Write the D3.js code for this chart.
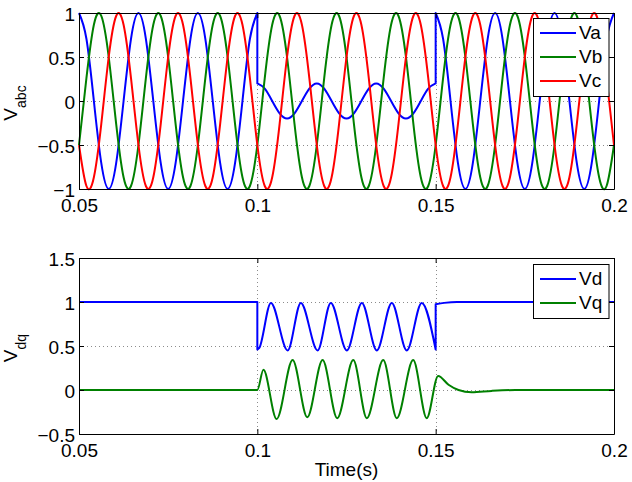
<!DOCTYPE html>
<html>
<head>
<meta charset="utf-8">
<script src="https://cdn.jsdelivr.net/npm/d3@7"></script>
<style>
  body { margin: 0; background: #fff; }
  svg { display: block; font-family: "Liberation Sans", Arial, sans-serif; }
</style>
</head>
<body>
<div id="chart"></div>
<script>
// sample times for the phase voltages (s)
const tGrid = [
  0.05, 0.05208, 0.05417, 0.05625, 0.05833, 0.06042, 0.0625, 0.06458,
  0.06667, 0.06875, 0.07083, 0.07292, 0.075, 0.07708, 0.07917, 0.08125,
  0.08333, 0.08542, 0.0875, 0.08958, 0.09167, 0.09375, 0.09583, 0.09792,
  0.1, 0.10208, 0.10417, 0.10625, 0.10833, 0.11042, 0.1125, 0.11458,
  0.11667, 0.11875, 0.12083, 0.12292, 0.125, 0.12708, 0.12917, 0.13125,
  0.13333, 0.13542, 0.1375, 0.13958, 0.14167, 0.14375, 0.14583, 0.14792,
  0.15, 0.15208, 0.15417, 0.15625, 0.15833, 0.16042, 0.1625, 0.16458,
  0.16667, 0.16875, 0.17083, 0.17292, 0.175, 0.17708, 0.17917, 0.18125,
  0.18333, 0.18542, 0.1875, 0.18958, 0.19167, 0.19375, 0.19583, 0.19792,
  0.2
];

// Va: before the sag (0.05-0.1), during it (0.1-0.15), after it (0.15-0.2)
const vaPre = [
  1, 0.707, 0, -0.707, -1, -0.707, 0, 0.707,
  1, 0.707, 0, -0.707, -1, -0.707, 0, 0.707,
  1, 0.707, 0, -0.707, -1, -0.707, 0, 0.707,
  1
];
const vaSag = [
  0.2, 0.141, 0, -0.141, -0.2, -0.141, 0, 0.141,
  0.2, 0.141, 0, -0.141, -0.2, -0.141, 0, 0.141,
  0.2, 0.141, 0, -0.141, -0.2, -0.141, 0, 0.141,
  0.2
];
const vaPost = [
  1, 0.707, 0, -0.707, -1, -0.707, 0, 0.707,
  1, 0.707, 0, -0.707, -1, -0.707, 0, 0.707,
  1, 0.707, 0, -0.707, -1, -0.707, 0, 0.707,
  1
];
const vb = [
  -0.5, 0.259, 0.866, 0.966, 0.5, -0.259, -0.866, -0.966,
  -0.5, 0.259, 0.866, 0.966, 0.5, -0.259, -0.866, -0.966,
  -0.5, 0.259, 0.866, 0.966, 0.5, -0.259, -0.866, -0.966,
  -0.5, 0.259, 0.866, 0.966, 0.5, -0.259, -0.866, -0.966,
  -0.5, 0.259, 0.866, 0.966, 0.5, -0.259, -0.866, -0.966,
  -0.5, 0.259, 0.866, 0.966, 0.5, -0.259, -0.866, -0.966,
  -0.5, 0.259, 0.866, 0.966, 0.5, -0.259, -0.866, -0.966,
  -0.5, 0.259, 0.866, 0.966, 0.5, -0.259, -0.866, -0.966,
  -0.5, 0.259, 0.866, 0.966, 0.5, -0.259, -0.866, -0.966,
  -0.5
];
const vc = [
  -0.5, -0.966, -0.866, -0.259, 0.5, 0.966, 0.866, 0.259,
  -0.5, -0.966, -0.866, -0.259, 0.5, 0.966, 0.866, 0.259,
  -0.5, -0.966, -0.866, -0.259, 0.5, 0.966, 0.866, 0.259,
  -0.5, -0.966, -0.866, -0.259, 0.5, 0.966, 0.866, 0.259,
  -0.5, -0.966, -0.866, -0.259, 0.5, 0.966, 0.866, 0.259,
  -0.5, -0.966, -0.866, -0.259, 0.5, 0.966, 0.866, 0.259,
  -0.5, -0.966, -0.866, -0.259, 0.5, 0.966, 0.866, 0.259,
  -0.5, -0.966, -0.866, -0.259, 0.5, 0.966, 0.866, 0.259,
  -0.5, -0.966, -0.866, -0.259, 0.5, 0.966, 0.866, 0.259,
  -0.5
];

// Vd, read at its peaks and troughs
const vdPreT = [0.05, 0.1];
const vdPre = [1, 1];
const vdSagT = [0.1, 0.1005, 0.1038, 0.1085, 0.1122, 0.1169, 0.1206, 0.1251,
  0.1293, 0.1335, 0.1377, 0.1419, 0.1461, 0.15];
const vdSag = [0.46, 0.475, 0.99, 0.45, 0.99, 0.45, 0.99, 0.45,
  0.99, 0.45, 0.99, 0.45, 0.99, 0.46];
const vdPostT = [0.15, 0.1524, 0.156, 0.2];
const vdPost = [0.975, 0.99, 1, 1];

// Vq
const vqT = [0.05, 0.1, 0.1017, 0.1054, 0.1099, 0.114, 0.1183, 0.1224, 0.1269,
  0.1307, 0.1353, 0.1391, 0.1437, 0.1475, 0.1507, 0.1536, 0.1564, 0.1601,
  0.1657, 0.1723, 0.2];
const vq = [0, 0, 0.23, -0.33, 0.34, -0.31, 0.34, -0.32, 0.34,
  -0.32, 0.34, -0.32, 0.34, -0.32, 0.16, 0.06, 0, -0.026,
  -0.01, 0, 0];

const xTicks = [0.05, 0.1, 0.15, 0.2];
const xTickLabels = ["0.05", "0.1", "0.15", "0.2"];
const abcTicks = [-1, -0.5, 0, 0.5, 1];
const abcTickLabels = ["\u22121", "\u22120.5", "0", "0.5", "1"];
const dqTicks = [-0.5, 0, 0.5, 1, 1.5];
const dqTickLabels = ["\u22120.5", "0", "0.5", "1", "1.5"];
const abcNames = ["Va", "Vb", "Vc"];
const dqNames = ["Vd", "Vq"];
const colors = ["#0000ff", "#008000", "#ff0000"];

const width = 632, height = 482;
const left = 79, right = 614;
const fs = 19;

const svg = d3.select("#chart").append("svg")
  .attr("width", width)
  .attr("height", height);

const x = d3.scaleLinear().domain([0.05, 0.2]).range([left, right]);
const yAbc = d3.scaleLinear().domain([-1, 1]).range([189, 13]);
const yDq = d3.scaleLinear().domain([-0.5, 1.5]).range([434, 258]);

// join segments so the jumps between them become straight vertical strokes
function joined(line, segs) {
  return segs.map((s, i) => i ? line(s).replace(/^M/, "L") : line(s)).join("");
}

function panel(y, ticks, labels, sub) {
  const [bottom, top] = y.range();
  const g = svg.append("g");

  // dotted grid
  const grid = g.append("g")
    .attr("stroke", "#8c8c8c")
    .attr("stroke-width", 1)
    .attr("stroke-dasharray", "1,3");
  grid.selectAll("line.gx")
    .data(xTicks.slice(1, -1))
    .join("line").attr("class", "gx")
    .attr("x1", d => Math.round(x(d)) + 0.5).attr("x2", d => Math.round(x(d)) + 0.5)
    .attr("y1", top).attr("y2", bottom);
  grid.selectAll("line.gy")
    .data(ticks.slice(1, -1))
    .join("line").attr("class", "gy")
    .attr("x1", left).attr("x2", right)
    .attr("y1", d => Math.round(y(d)) + 0.5).attr("y2", d => Math.round(y(d)) + 0.5);

  const plot = g.append("g");

  const fmt = (arr) => (d, i) => arr[i];
  const axes = [
    g.append("g").attr("transform", `translate(0,${bottom})`)
      .call(d3.axisBottom(x).tickValues(xTicks).tickFormat(fmt(xTickLabels))
        .tickSizeInner(-5).tickSizeOuter(0).tickPadding(9.5)),
    g.append("g").attr("transform", `translate(0,${top})`)
      .call(d3.axisTop(x).tickValues(xTicks).tickFormat("").tickSizeInner(-5).tickSizeOuter(0)),
    g.append("g").attr("transform", `translate(${left},0)`)
      .call(d3.axisLeft(y).tickValues(ticks).tickFormat(fmt(labels))
        .tickSizeInner(-5).tickSizeOuter(0).tickPadding(4)),
    g.append("g").attr("transform", `translate(${right},0)`)
      .call(d3.axisRight(y).tickValues(ticks).tickFormat("").tickSizeInner(-5).tickSizeOuter(0))
  ];
  axes.forEach(a => a.attr("font-size", fs).attr("font-family", null).attr("color", "#000"));
  axes[2].selectAll("text").attr("dy", "0.37em");

  const ylab = g.append("text")
    .attr("transform", `translate(17,${(top + bottom) / 2 + 2}) rotate(-90)`)
    .attr("text-anchor", "middle")
    .attr("font-size", fs)
    .attr("fill", "#000");
  ylab.append("tspan").text("V");
  ylab.append("tspan").attr("dy", 9).attr("font-size", 14).text(sub);

  return plot;
}

function legend(names, top) {
  const lg = svg.append("g");
  lg.append("rect")
    .attr("x", 533.5).attr("y", top + 0.5)
    .attr("width", 75.5).attr("height", names.length * 24 + 6)
    .attr("fill", "#fff").attr("stroke", "#000");
  const row = lg.selectAll("g.row").data(names).join("g")
    .attr("transform", (d, i) => `translate(0,${top + 15 + i * 24})`);
  row.append("line")
    .attr("x1", 540).attr("x2", 576)
    .attr("stroke", (d, i) => colors[i]).attr("stroke-width", 2);
  row.append("text")
    .attr("x", 579).attr("dy", "0.34em")
    .attr("font-size", fs)
    .text(d => d);
}

// top panel: phase voltages
const topPlot = panel(yAbc, abcTicks, abcTickLabels, "abc");
const lineAbc = d3.line().x(d => x(d[0])).y(d => yAbc(d[1])).curve(d3.curveNatural);
const abcPaths = [
  joined(lineAbc, [
    d3.zip(tGrid.slice(0, 25), vaPre),
    d3.zip(tGrid.slice(24, 49), vaSag),
    d3.zip(tGrid.slice(48), vaPost)
  ]),
  lineAbc(d3.zip(tGrid, vb)),
  lineAbc(d3.zip(tGrid, vc))
];
topPlot.selectAll("path").data(abcPaths).join("path")
  .attr("d", d => d)
  .attr("fill", "none")
  .attr("stroke", (d, i) => colors[i])
  .attr("stroke-width", 2)
  .attr("stroke-linejoin", "round");
legend(abcNames, 18);

// bottom panel: dq voltages
const botPlot = panel(yDq, dqTicks, dqTickLabels, "dq");
const lineDq = d3.line().x(d => x(d[0])).y(d => yDq(d[1])).curve(d3.curveMonotoneX);
const dqPaths = [
  joined(lineDq, [
    d3.zip(vdPreT, vdPre),
    d3.zip(vdSagT, vdSag),
    d3.zip(vdPostT, vdPost)
  ]),
  lineDq(d3.zip(vqT, vq))
];
botPlot.selectAll("path").data(dqPaths).join("path")
  .attr("d", d => d)
  .attr("fill", "none")
  .attr("stroke", (d, i) => colors[i])
  .attr("stroke-width", 2)
  .attr("stroke-linejoin", "round");
legend(dqNames, 264);

svg.append("text")
  .attr("x", (left + right) / 2).attr("y", 476)
  .attr("text-anchor", "middle")
  .attr("font-size", fs)
  .text("Time(s)");
</script>
</body>
</html>
